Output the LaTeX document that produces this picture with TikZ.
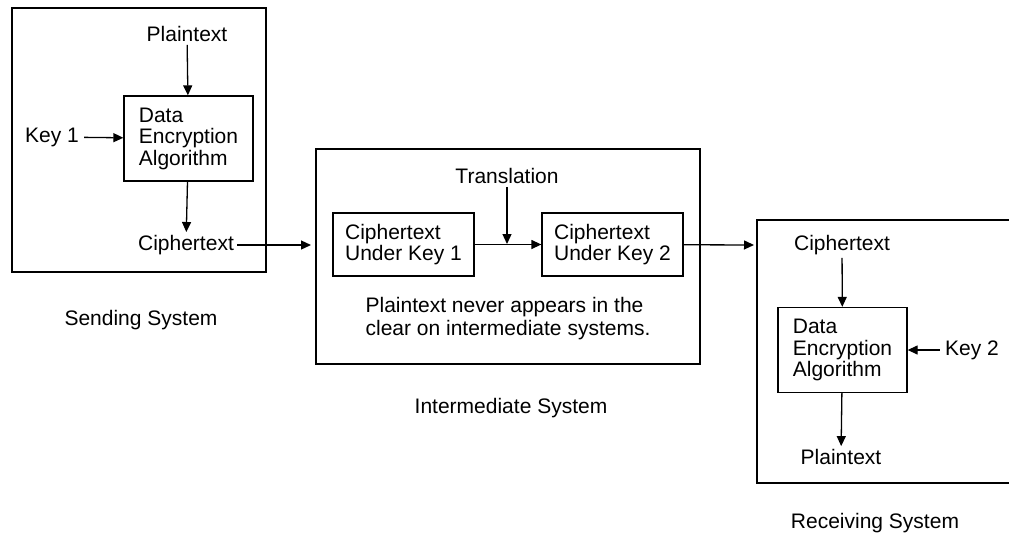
\documentclass[tikz,border=0pt]{standalone}
\usepackage{fontspec}
\setmainfont{Liberation Sans}
\usetikzlibrary{arrows.meta}
\begin{document}
\begin{tikzpicture}[x=1pt,y=-1pt,
  every node/.style={font=\fontsize{21}{21.5}\selectfont},
  lbl/.style={inner sep=3pt},
  algbox/.style={draw,line width=1.3pt,minimum width=129pt,minimum height=85pt,
    align=left,inner sep=0pt},
  ctbox/.style={draw,line width=1.3pt,minimum width=141pt,minimum height=63pt,
    align=left,inner sep=0pt},
  sys/.style={draw,line width=1.3pt},
  arr/.style={-{Triangle[length=10pt,width=9pt]},line width=1.3pt}]
\useasboundingbox (0,0) rectangle (1009,536);
% Sending system
\draw[sys] (12,8) rectangle (266,272);
\node[lbl] (pt1) at (187,34) {Plaintext};
\node[algbox] (dea1) at (188.5,138.5) {Data\\Encryption\\Algorithm};
\node[lbl,inner xsep=5pt] (key1) at (52,137) {Key 1};
\node[lbl] (ct1) at (186,245) {Ciphertext};
\coordinate (ct1end) at (311,245);
\draw[arr] (pt1) -- (dea1);
\draw[arr] (key1) -- (dea1);
\draw[arr] (dea1) -- (ct1);
\draw[arr] (ct1) -- (ct1end);
\node (sending) at (141,320) {Sending System};
% Intermediate system
\draw[sys] (316,149) rectangle (700,364);
\node[lbl] (trans) at (507,176) {Translation};
\node[ctbox] (cuk1) at (403.5,244.5) {Ciphertext\\Under Key 1};
\node[ctbox] (cuk2) at (612.5,244.5) {Ciphertext\\Under Key 2};
\coordinate (transend) at (507,244);
\coordinate (cuk2end) at (754,245);
\draw[arr] (trans) -- (transend);
\draw[arr] (cuk1) -- (cuk2);
\draw[arr] (cuk2) -- (cuk2end);
\node[align=left,font=\fontsize{21}{23}\selectfont] (note) at (508,318.5) {Plaintext never appears in the\\clear on intermediate systems.};
\node (inter) at (511,408) {Intermediate System};
% Receiving system
\draw[sys] (1020,220) -- (757,220) -- (757,483) -- (1020,483);
\node[lbl] (ct2) at (842,245) {Ciphertext};
\node[algbox] (dea2) at (842.5,350) {Data\\Encryption\\Algorithm};
\node[lbl,inner xsep=5pt] (key2) at (972,350) {Key 2};
\node[lbl] (pt2) at (841,457) {Plaintext};
\draw[arr] (ct2) -- (dea2);
\draw[arr] (key2) -- (dea2);
\draw[arr] (dea2) -- (pt2);
\node (recv) at (875,523) {Receiving System};
\end{tikzpicture}
\end{document}
